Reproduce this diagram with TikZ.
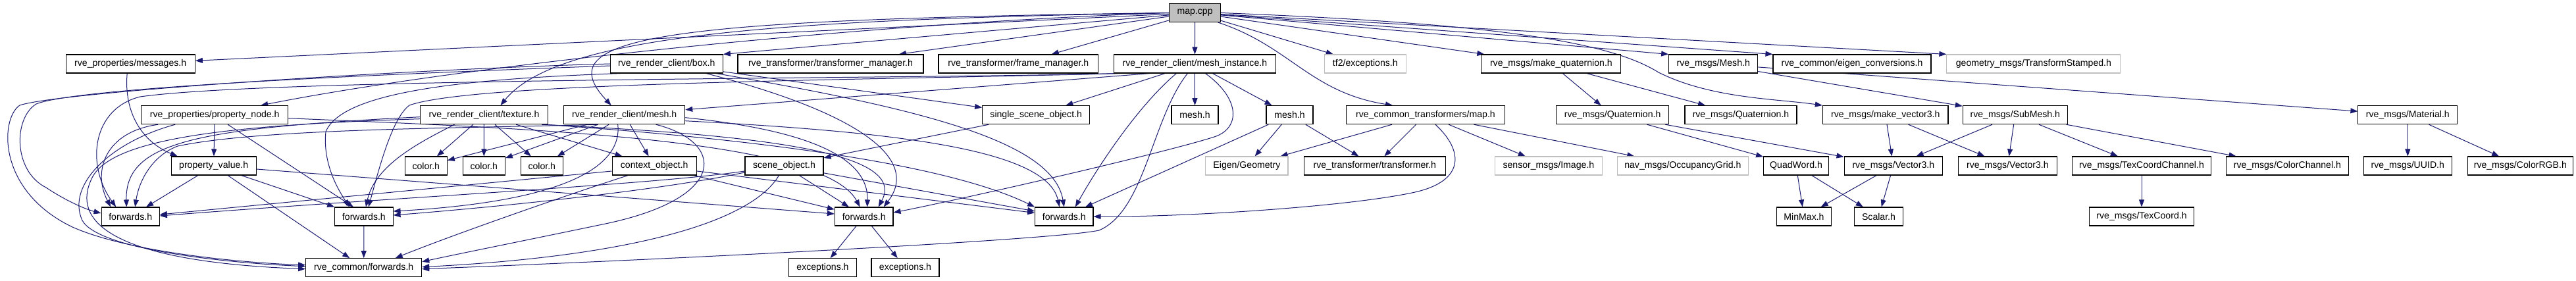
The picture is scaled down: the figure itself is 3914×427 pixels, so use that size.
\documentclass[tikz,border=0pt]{standalone}
\usepackage{fontspec}
\setmainfont{Liberation Sans}
\usepackage{tikz}
\usetikzlibrary{arrows.meta,backgrounds}
\tikzset{>={Triangle[length=11pt,width=8pt]}}
\usepackage{xcolor}
\definecolor{edgeblue}{HTML}{191970}
\definecolor{boxgray}{HTML}{BFBFBF}
\tikzset{
  incbox/.style={draw=black, fill=white, line width=1.1pt, minimum height=28pt, inner sep=0pt, font=\fontsize{14.1pt}{16pt}\selectfont},
  extbox/.style={incbox, draw=boxgray},
  dep/.style={->, draw=edgeblue, line width=1pt}
}

\begin{document}
\begin{tikzpicture}[x=1pt,y=-1pt]
\useasboundingbox (0,0) rectangle (3914,427);
\node[incbox, fill=boxgray, minimum width=78pt] (mapcpp) at (1815.6,19.5) {map.cpp};

\node[incbox, minimum width=196.3pt] (messages) at (198.2,97) {rve\_properties/messages.h};
\node[incbox, minimum width=171pt] (box) at (1012.8,97) {rve\_render\_client/box.h};
\node[incbox, minimum width=282pt] (tfmgr) at (1262,97) {rve\_transformer/transformer\_manager.h};
\node[incbox, minimum width=242.7pt] (framemgr) at (1547.3,97) {rve\_transformer/frame\_manager.h};
\node[incbox, minimum width=245.3pt] (meshinst) at (1815.4,97) {rve\_render\_client/mesh\_instance.h};
\node[extbox, minimum width=124pt] (tftwoexc) at (2074.3,97) {tf2/exceptions.h};
\node[incbox, minimum width=212pt] (makequat) at (2356.9,97) {rve\_msgs/make\_quaternion.h};
\node[incbox, minimum width=135pt] (msgmesh) at (2603.2,97) {rve\_msgs/Mesh.h};
\node[incbox, minimum width=240pt] (eigenconv) at (2814,97) {rve\_common/eigen\_conversions.h};
\node[extbox, minimum width=264pt] (tfstamped) at (3089.9,97) {geometry\_msgs/TransformStamped.h};

\node[incbox, minimum width=223pt] (propnode) at (326.2,174.7) {rve\_properties/property\_node.h};
\node[incbox, minimum width=194.4pt] (texture) at (735.5,174.7) {rve\_render\_client/texture.h};
\node[incbox, minimum width=184pt] (rcmesh) at (948.7,174.7) {rve\_render\_client/mesh.h};
\node[incbox, minimum width=163pt] (single) at (1574.2,174.7) {single\_scene\_object.h};
\node[incbox, minimum width=71pt] (meshA) at (1815.5,174.7) {mesh.h};
\node[incbox, minimum width=71pt] (meshB) at (1959.5,174.7) {mesh.h};
\node[incbox, minimum width=241pt] (maph) at (2166,174.7) {rve\_common\_transformers/map.h};
\node[incbox, minimum width=170.4pt] (quatA) at (2450.1,174.7) {rve\_msgs/Quaternion.h};
\node[incbox, minimum width=170pt] (quatB) at (2645,174.7) {rve\_msgs/Quaternion.h};
\node[incbox, minimum width=190.6pt] (makevec) at (2864.7,174.7) {rve\_msgs/make\_vector3.h};
\node[incbox, minimum width=159pt] (submesh) at (3061.8,174.7) {rve\_msgs/SubMesh.h};
\node[incbox, minimum width=150.8pt] (material) at (3658.3,174.7) {rve\_msgs/Material.h};

\node[incbox, minimum width=129.3pt] (propval) at (324.7,252) {property\_value.h};
\node[incbox, minimum width=64pt] (colorA) at (647.3,252) {color.h};
\node[incbox, minimum width=64pt] (colorB) at (735.3,252) {color.h};
\node[incbox, minimum width=64pt] (colorC) at (823.3,252) {color.h};
\node[incbox, minimum width=128.3pt] (ctxobj) at (994.2,252) {context\_object.h};
\node[incbox, minimum width=119pt] (sceneobj) at (1191.5,252) {scene\_object.h};
\node[extbox, minimum width=125.2pt] (geometry) at (1894.4,252) {Eigen/Geometry};
\node[incbox, minimum width=215.5pt] (transformer) at (2088.8,252) {rve\_transformer/transformer.h};
\node[extbox, minimum width=163pt] (image) at (2352.9,252) {sensor\_msgs/Image.h};
\node[extbox, minimum width=198.5pt] (occgrid) at (2556.8,252) {nav\_msgs/OccupancyGrid.h};
\node[incbox, minimum width=98.7pt] (quadword) at (2729,252) {QuadWord.h};
\node[incbox, minimum width=149.5pt] (vecA) at (2876.8,252) {rve\_msgs/Vector3.h};
\node[incbox, minimum width=149.6pt] (vecB) at (3050.4,252) {rve\_msgs/Vector3.h};
\node[incbox, minimum width=210.5pt] (texcoordch) at (3254,252) {rve\_msgs/TexCoordChannel.h};
\node[incbox, minimum width=185.5pt] (colorch) at (3475.4,252) {rve\_msgs/ColorChannel.h};
\node[incbox, minimum width=133.8pt] (uuid) at (3658.3,252) {rve\_msgs/UUID.h};
\node[incbox, minimum width=160.5pt] (colorrgb) at (3829.3,252) {rve\_msgs/ColorRGB.h};

\node[incbox, minimum width=88.3pt] (fwdA) at (198.2,329) {forwards.h};
\node[incbox, minimum width=88.3pt] (fwdB) at (552.9,329) {forwards.h};
\node[incbox, minimum width=88.6pt] (fwdC) at (1312.7,329) {forwards.h};
\node[incbox, minimum width=88.3pt] (fwdD) at (1616.8,329) {forwards.h};
\node[incbox, minimum width=82.6pt] (minmax) at (2741,329) {MinMax.h};
\node[incbox, minimum width=73.7pt] (scalar) at (2854.5,329) {Scalar.h};
\node[incbox, minimum width=158.7pt] (texcoord) at (3254,329) {rve\_msgs/TexCoord.h};

\node[incbox, minimum width=176pt] (commonfwd) at (552.7,406.7) {rve\_common/forwards.h};
\node[incbox, minimum width=103.3pt] (excA) at (1250,406.7) {exceptions.h};
\node[incbox, minimum width=103pt] (excB) at (1375.5,406.7) {exceptions.h};

\begin{scope}[on background layer]
\draw[dep] (mapcpp) -- (messages);
\draw[dep] (mapcpp) -- (box.north east);
\draw[dep] (mapcpp) -- (tfmgr);
\draw[dep] (mapcpp) -- (framemgr);
\draw[dep] (mapcpp) -- (meshinst);
\draw[dep] (mapcpp) -- (tftwoexc);
\draw[dep] (mapcpp) -- (makequat);
\draw[dep] (mapcpp) -- (msgmesh.north west);
\draw[dep] (mapcpp) -- (eigenconv.north west);
\draw[dep] (mapcpp) -- (tfstamped.north west);
\draw[dep] (mapcpp.west) .. controls (1300,36) and (700,100) .. ([xshift=70pt]propnode.north);
\draw[dep] (mapcpp.west) .. controls (1200,30) and (850,50) .. ([xshift=25pt]texture.north);
\draw[dep] (mapcpp.west) .. controls (1000,30) and (830,55) .. ([xshift=-20pt]rcmesh.north);
\draw[dep] ([xshift=35pt]mapcpp.south) .. controls (1960,70) and (1990,140) .. ([xshift=-50pt]maph.north);
\draw[dep] (mapcpp.east) .. controls (2250,35) and (2440,60) .. (2520,110) .. controls (2600,150) and (2700,150) .. (makevec.north west);

\draw[dep] (box.west) .. controls (600,106) and (90,140) .. (30,160) .. controls (0,180) and (-5,290) .. (110,345) .. controls (200,385) and (380,400) .. ([yshift=4pt]commonfwd.west);
\draw[dep] ([yshift=-3pt]box.west) .. controls (600,112) and (120,132) .. (55,158) .. controls (20,180) and (20,260) .. (70,285) .. controls (100,305) and (130,318) .. ([yshift=5pt]fwdA.west);
\draw[dep] ([xshift=-70pt]box.south) .. controls (700,120) and (520,140) .. (495,200) .. controls (490,250) and (515,290) .. ([xshift=-22pt]fwdB.north);
\draw[dep] (box) -- (single);
\draw[dep] ([xshift=60pt]box.south) .. controls (1300,170) and (1400,240) .. ([xshift=30pt]fwdC.north);
\draw[dep] ([xshift=75pt]box.south) .. controls (1400,165) and (1600,215) .. (fwdD.north);

\draw[dep] (meshinst) -- (single);
\draw[dep] (meshinst) -- (meshA);
\draw[dep] (meshinst) -- (meshB);
\draw[dep] ([xshift=-68pt]meshinst.south) -- ([yshift=8pt]rcmesh.east);
\draw[dep] ([xshift=6pt]meshinst.south west) .. controls (1400,120) and (420,118) .. (213,147) .. controls (140,165) and (130,250) .. ([xshift=-22pt]fwdA.north);
\draw[dep] ([xshift=10pt]meshinst.south west) .. controls (1300,122) and (720,125) .. (622,160) .. controls (595,180) and (575,260) .. ([xshift=7pt]fwdB.north);
\draw[dep] ([xshift=-28pt]meshinst.south) .. controls (1730,160) and (1670,250) .. ([xshift=17pt]fwdD.north);
\draw[dep] ([xshift=-11pt]meshinst.south) .. controls (1750,180) and (1740,320) .. (1670,350) .. controls (1600,365) and (1000,395) .. ([yshift=-2pt]commonfwd.east);
\draw[dep] ([xshift=16pt]meshinst.south) .. controls (1885,150) and (1885,195) .. (1845,208) .. controls (1760,235) and (1450,305) .. ([yshift=6pt]fwdC.east);

\draw[dep] ([xshift=-5pt]messages.south) .. controls (188,170) and (215,215) .. ([xshift=-55pt]propval.north);

\draw[dep] (propnode) -- (propval);
\draw[dep] ([xshift=-86pt]propnode.south) .. controls (160,200) and (140,260) .. ([xshift=-30pt]fwdA.north);
\draw[dep] ([xshift=-60pt]propnode.south) .. controls (170,215) and (100,280) .. (125,335) .. controls (150,380) and (350,400) .. ([yshift=2pt]commonfwd.west);
\draw[dep] ([xshift=20pt]propnode.south) -- ([xshift=-16pt]fwdB.north);
\draw[dep] ([yshift=-5pt]propnode.east) .. controls (800,195) and (1250,210) .. ([xshift=-6pt]fwdC.north);

\draw[dep] (propval) -- (fwdA);
\draw[dep] ([xshift=42pt]propval.south) -- (fwdB.north west);
\draw[dep] (propval) -- (commonfwd);
\draw[dep] ([yshift=-5pt]propval.east) -- ([yshift=4pt]fwdC.west);

\draw[dep] (texture) -- (colorA);
\draw[dep] (texture) -- (colorB);
\draw[dep] (texture) -- (colorC);
\draw[dep] (texture) -- (ctxobj);
\draw[dep] ([yshift=-3pt]texture.west) .. controls (300,195) and (190,215) .. ([xshift=-6pt]fwdA.north);
\draw[dep] ([yshift=-6pt]texture.west) .. controls (350,190) and (170,210) .. (140,270) .. controls (120,310) and (110,395) .. ([yshift=-2pt]commonfwd.west);
\draw[dep] ([xshift=-45pt]texture.south) .. controls (640,215) and (570,250) .. ([xshift=3pt]fwdB.north);
\draw[dep] ([xshift=-10pt]texture.south east) .. controls (1150,205) and (1380,230) .. ([xshift=22pt]fwdC.north);
\draw[dep] ([xshift=-5pt]texture.south east) .. controls (1200,215) and (1450,255) .. (fwdD.north west);

\draw[dep] (rcmesh) -- (colorA);
\draw[dep] (rcmesh) -- (colorB);
\draw[dep] (rcmesh) -- (colorC);
\draw[dep] (rcmesh) -- (ctxobj);
\draw[dep] ([xshift=-40pt]rcmesh.south) .. controls (700,195) and (400,195) .. (270,222) .. controls (235,235) and (212,270) .. ([xshift=7pt]fwdA.north);
\draw[dep] ([xshift=-10pt]rcmesh.south) .. controls (945,245) and (880,305) .. ([yshift=8pt]fwdB.east);
\draw[dep] ([yshift=-4pt]rcmesh.east) .. controls (1200,195) and (1320,230) .. ([xshift=5pt]fwdC.north);
\draw[dep] ([yshift=-9pt]rcmesh.east) .. controls (1350,200) and (1590,225) .. ([xshift=-7pt]fwdD.north);
\draw[dep] ([xshift=48pt]rcmesh.south) .. controls (1100,215) and (1110,300) .. (920,340) .. controls (800,365) and (700,385) .. ([yshift=9pt]commonfwd.east);

\draw[dep] (ctxobj) -- (fwdC);
\draw[dep] (ctxobj) -- (fwdD);
\draw[dep] ([yshift=-8pt]ctxobj.west) -- ([yshift=3pt]fwdA.east);
\draw[dep] ([xshift=-40pt]ctxobj.south) .. controls (850,300) and (680,360) .. ([xshift=48pt]commonfwd.north);

\draw[dep] (single) -- (sceneobj);
\draw[dep] (sceneobj) -- (fwdC);
\draw[dep] (sceneobj) -- (fwdD);
\draw[dep] ([yshift=-8pt]sceneobj.west) .. controls (1000,280) and (600,300) .. ([yshift=1pt]fwdA.east);
\draw[dep] ([yshift=-10pt]sceneobj.west) .. controls (1000,290) and (750,315) .. ([yshift=2pt]fwdB.east);
\draw[dep] ([xshift=-8pt]sceneobj.south) .. controls (1140,340) and (950,390) .. ([yshift=1pt]commonfwd.east);

\draw[dep] (fwdB) -- (commonfwd);
\draw[dep] (fwdC) -- (excA);
\draw[dep] (fwdC) -- (excB);

\draw[dep] (meshB) -- (geometry);
\draw[dep] (meshB) -- (transformer);
\draw[dep] (meshB) -- (fwdD);
\draw[dep] (maph) -- (geometry);
\draw[dep] (maph) -- (transformer);
\draw[dep] (maph) -- (image);
\draw[dep] (maph) -- (occgrid);
\draw[dep] ([xshift=15pt]maph.south) .. controls (2225,230) and (2225,275) .. (2150,292) .. controls (2050,314) and (1800,330) .. (fwdD.east);

\draw[dep] (makequat) -- (quatA);
\draw[dep] (makequat) -- (quatB);
\draw[dep] (quatA) -- (quadword);
\draw[dep] (quatA) -- (vecA);
\draw[dep] (makevec) -- (vecA);
\draw[dep] (makevec) -- (vecB);
\draw[dep] (msgmesh) -- (submesh);
\draw[dep] (msgmesh) -- (material);
\draw[dep] (submesh) -- (vecA);
\draw[dep] (submesh) -- (vecB);
\draw[dep] (submesh) -- (texcoordch);
\draw[dep] (submesh) -- (colorch);
\draw[dep] (material) -- (uuid);
\draw[dep] (material) -- (colorrgb);
\draw[dep] (texcoordch) -- (texcoord);
\draw[dep] (quadword) -- (minmax);
\draw[dep] (quadword) -- (scalar);
\draw[dep] (vecA) -- (minmax);
\draw[dep] (vecA) -- (scalar);
\end{scope}
\end{tikzpicture}
\end{document}
